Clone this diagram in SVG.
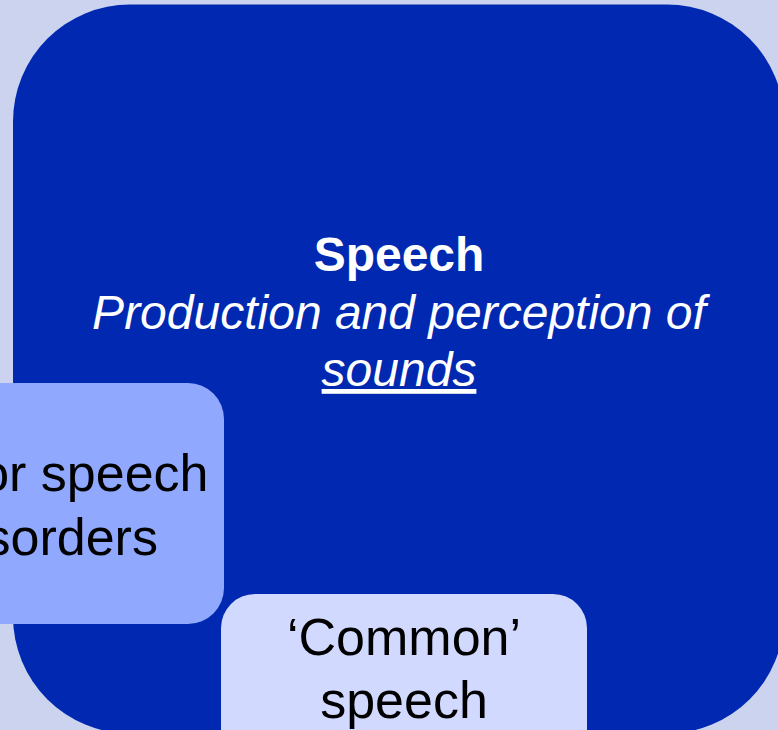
<svg xmlns="http://www.w3.org/2000/svg" width="778" height="730" viewBox="0 0 778 730">
  <style>
    .t { font-family: "Liberation Sans", Arial, sans-serif; text-anchor: middle; }
    .dark { fill: #0028B1; }
    .mid { fill: #91A8FF; }
    .pale { fill: #D2D9FF; }
  </style>
  <rect x="0" y="0" width="778" height="730" fill="#CCD3EE"/>
  <g id="speech">
    <rect class="dark" x="13" y="4.5" width="771" height="729" rx="117" ry="117"/>
    <text class="t" x="399" y="271" font-size="48" font-weight="bold" fill="#FFFFFF">Speech</text>
    <text class="t" x="399" y="329" font-size="48" font-style="italic" fill="#FFFFFF">Production and perception of</text>
    <text class="t" x="399" y="386" font-size="48" font-style="italic" fill="#FFFFFF" text-decoration="underline">sounds</text>
  </g>
  <g id="motor-speech-disorders">
    <rect class="mid" x="-122" y="383" width="346" height="241" rx="36" ry="36"/>
    <text class="t" x="51" y="491" font-size="52" fill="#000000">Motor speech</text>
    <text class="t" x="51" y="555" font-size="52" fill="#000000">disorders</text>
  </g>
  <g id="common-speech">
    <rect class="pale" x="221" y="594" width="366" height="180" rx="34" ry="34"/>
    <text class="t" x="404" y="655" font-size="52" fill="#000000">‘Common’</text>
    <text class="t" x="404" y="718" font-size="52" fill="#000000">speech</text>
  </g>
  <g id="connectors"/>
</svg>
